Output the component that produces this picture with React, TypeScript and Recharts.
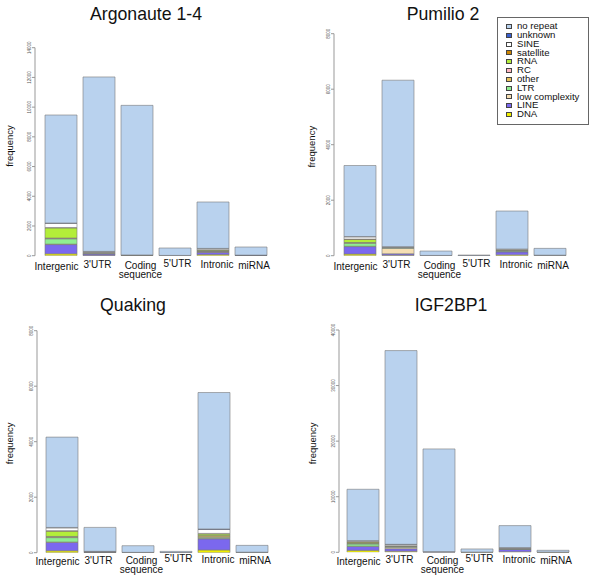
import React from 'react';
import { BarChart, Bar, XAxis, YAxis, Legend } from 'recharts';

const FONT = '"Liberation Sans", Arial, Helvetica, sans-serif';

const categories = ["Intergenic", "3'UTR", "Coding sequence", "5'UTR", "Intronic", "miRNA"];

// stacking order, bottom to top
const repeatClasses = ['DNA', 'LINE', 'low complexity', 'LTR', 'other', 'RC', 'RNA', 'satellite', 'SINE', 'unknown', 'no repeat'];
const repeatColors = ['#EEEE00', '#7B68EE', '#F5DEB3', '#90EE90', '#E8C35A', '#FFB6C1', '#B3EE3A', '#CD8500', '#FFFFFF', '#3A5FCD', '#B9D2EE'];

// rows follow repeatClasses, columns follow categories
const argonaute = [
  [130, 20, 5, 2, 80, 5],
  [620, 90, 20, 5, 150, 15],
  [30, 60, 5, 2, 20, 3],
  [360, 20, 5, 2, 40, 3],
  [40, 10, 2, 1, 30, 2],
  [10, 0, 0, 0, 5, 0],
  [680, 20, 3, 2, 60, 3],
  [30, 10, 2, 1, 15, 2],
  [280, 50, 5, 3, 80, 5],
  [20, 10, 3, 0, 10, 2],
  [7270, 11740, 10070, 500, 3125, 545],
];
const pumilio = [
  [60, 20, 2, 1, 30, 5],
  [270, 50, 3, 3, 110, 8],
  [10, 200, 1, 0, 10, 1],
  [110, 15, 1, 0, 30, 1],
  [20, 10, 0, 0, 15, 1],
  [5, 0, 0, 0, 0, 0],
  [110, 10, 1, 0, 10, 1],
  [15, 0, 0, 0, 10, 1],
  [80, 15, 2, 0, 25, 2],
  [10, 4, 0, 0, 0, 0],
  [2560, 6000, 158, 20, 1370, 244],
];
const quaking = [
  [70, 5, 2, 1, 100, 3],
  [300, 20, 5, 3, 400, 8],
  [15, 2, 1, 0, 20, 1],
  [160, 3, 1, 0, 40, 1],
  [30, 2, 0, 0, 50, 1],
  [10, 0, 0, 0, 5, 0],
  [190, 3, 1, 0, 60, 1],
  [20, 1, 0, 0, 20, 1],
  [100, 10, 2, 2, 140, 2],
  [15, 4, 0, 0, 20, 1],
  [3255, 862, 240, 42, 4917, 245],
];
const igf2bp1 = [
  [350, 200, 20, 5, 100, 5],
  [700, 450, 40, 10, 400, 15],
  [60, 250, 10, 5, 40, 3],
  [400, 120, 10, 5, 80, 3],
  [100, 60, 5, 2, 40, 2],
  [20, 10, 0, 0, 0, 0],
  [200, 60, 10, 5, 60, 5],
  [80, 30, 5, 3, 20, 2],
  [150, 220, 15, 5, 80, 5],
  [40, 40, 5, 0, 20, 0],
  [9240, 34860, 18480, 560, 3960, 320],
];

const argonauteTicks = [0, 2000, 4000, 6000, 8000, 10000, 12000, 14000];
const pumilioTicks = [0, 2000, 4000, 6000, 8000];
const quakingTicks = [0, 2000, 4000, 6000, 8000];
const igfTicks = [0, 10000, 20000, 30000, 40000];

// category labels are not quite centred under their bars in the original
const labelShiftX = [-4.5, -1.5, 3.5, 2.5, 4, 3];
const labelShiftY = [0, -1.5, -1, -3, -2, -1];

const YTick = (props: any) => {
  const { x, y, payload } = props;
  return (
    <text x={x} y={y} transform={`rotate(-90 ${x} ${y})`} textAnchor="middle" fontSize={4.5} fill="#555" fontFamily={FONT}>
      {payload.value}
    </text>
  );
};

const makeXTick = (dy: number) => (props: any) => {
  const { x, y, payload, index } = props;
  const lines = String(payload.value).split(' ');
  const tx = x + (labelShiftX[index] || 0);
  return (
    <text x={tx} y={y + dy + (labelShiftY[index] || 0)} textAnchor="middle" fontSize={10} fill="#111" fontFamily={FONT}>
      {lines.map((l, i) => (
        <tspan key={i} x={tx} dy={i === 0 ? 0 : 9}>{l}</tspan>
      ))}
    </text>
  );
};

const LegendBox = () => (
  <div style={{ width: 92, height: 108, boxSizing: 'border-box', border: '1px solid #666', background: '#fff', position: 'relative', fontFamily: FONT, fontSize: 9.6, color: '#111' }}>
    {repeatClasses.slice().reverse().map((name, i) => {
      const color = repeatColors[repeatClasses.length - 1 - i];
      return (
        <div key={name} style={{ position: 'absolute', left: 8, top: 4.2 + i * 8.8, height: 8.8, display: 'flex', alignItems: 'center', whiteSpace: 'nowrap', lineHeight: '8.8px' }}>
          <span style={{ display: 'inline-block', width: 6, height: 5, boxSizing: 'border-box', border: '0.8px solid #444', background: color }} />
          <span style={{ marginLeft: 5 }}>{name}</span>
        </div>
      );
    })}
  </div>
);

type PanelProps = {
  rows: number[][];
  ticks: number[];
  left: number;
  top: number;
  yWidth: number;
  padLeft: number;
  marginTop: number;
  marginRight: number;
  xHeight: number;
  xDy: number;
  legend?: boolean;
};

function Panel({ rows, ticks, left, top, yWidth, padLeft, marginTop, marginRight, xHeight, xDy, legend }: PanelProps) {
  const data = categories.map((name, c) => {
    const row: Record<string, any> = { name };
    rows.forEach((vals, s) => { row['s' + s] = vals[c]; });
    return row;
  });
  return (
    <div style={{ position: 'absolute', left, top, width: 300, height: 292 }}>
      <BarChart width={300} height={292} data={data} margin={{ top: marginTop, right: marginRight, bottom: 0, left: 0 }}>
        <XAxis dataKey="name" height={xHeight} axisLine={false} tickLine={false} tickSize={0} tickMargin={0}
          interval={0} padding={{ left: padLeft, right: 0 }} tick={makeXTick(xDy)} />
        <YAxis width={yWidth} domain={[0, ticks[ticks.length - 1]]} ticks={ticks} interval={0}
          stroke="#999" tickSize={3} tickMargin={1} tick={<YTick />} allowDataOverflow />
        {legend && (
          <Legend layout="vertical" align="center" verticalAlign="middle"
            wrapperStyle={{ position: 'absolute', left: 197, top: 17, width: 92, height: 108 }}
            content={() => <LegendBox />} />
        )}
        {repeatClasses.map((name, s) => (
          <Bar key={name} name={name} dataKey={'s' + s} stackId="a" fill={repeatColors[s]}
            stroke="#7a7a7a" strokeWidth={0.6} barSize={32} isAnimationActive={false} />
        ))}
      </BarChart>
    </div>
  );
}

export default function App() {
  return (
    <div style={{ position: 'absolute', left: 0, top: 0, width: 600, height: 584, background: '#fff', overflow: 'hidden' }}>
      <Panel rows={argonaute} ticks={argonauteTicks} left={0} top={0} yWidth={35} padLeft={7}
        marginTop={47.7} marginRight={30} xHeight={36.3} xDy={13.9} />
      <Panel rows={pumilio} ticks={pumilioTicks} left={300} top={0} yWidth={34} padLeft={7}
        marginTop={33.7} marginRight={31} xHeight={36.3} xDy={13.9} legend />
      <Panel rows={quaking} ticks={quakingTicks} left={0} top={292} yWidth={37} padLeft={6}
        marginTop={38.7} marginRight={29} xHeight={31.3} xDy={12.4} />
      <Panel rows={igf2bp1} ticks={igfTicks} left={300} top={292} yWidth={39} padLeft={5}
        marginTop={38} marginRight={28} xHeight={31.7} xDy={12.4} />
      <svg width={600} height={584} style={{ position: 'absolute', left: 0, top: 0, pointerEvents: 'none' }}>
        <g fontFamily={FONT} fill="#111" textAnchor="middle">
          <text x={146} y={19.5} fontSize={17.7}>Argonaute 1-4</text>
          <text x={443} y={19.5} fontSize={17.7}>Pumilio 2</text>
          <text x={133} y={310.5} fontSize={17.7}>Quaking</text>
          <text x={451} y={310.5} fontSize={17.7}>IGF2BP1</text>
          <text x={9.5} y={146} fontSize={9.5} dominantBaseline="central" transform="rotate(-90 9.5 146)">frequency</text>
          <text x={311.7} y={146.7} fontSize={9.5} dominantBaseline="central" transform="rotate(-90 311.7 146.7)">frequency</text>
          <text x={9.5} y={443.3} fontSize={9.5} dominantBaseline="central" transform="rotate(-90 9.5 443.3)">frequency</text>
          <text x={312.7} y={443.3} fontSize={9.5} dominantBaseline="central" transform="rotate(-90 312.7 443.3)">frequency</text>
        </g>
      </svg>
    </div>
  );
}
